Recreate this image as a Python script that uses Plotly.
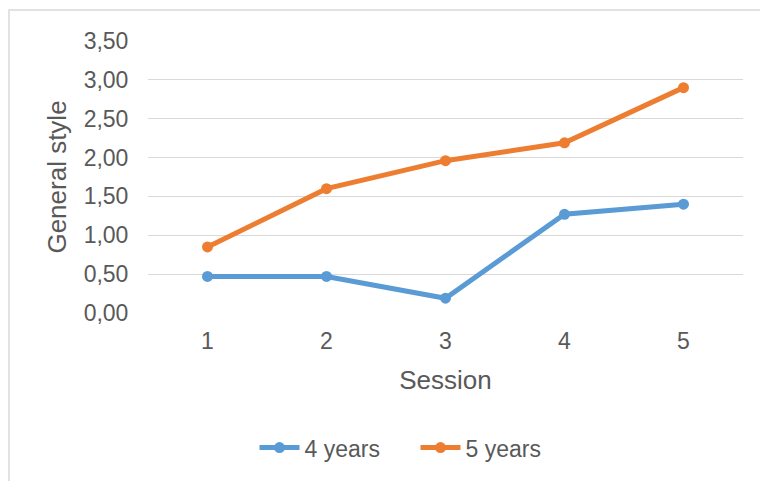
import plotly.graph_objects as go

# Mean "General style" score per session for each age group
sessions = [1, 2, 3, 4, 5]
four_years = [0.47, 0.47, 0.19, 1.27, 1.40]
five_years = [0.85, 1.60, 1.96, 2.19, 2.90]
y_ticks = [0.0, 0.5, 1.0, 1.5, 2.0, 2.5, 3.0, 3.5]
y_tick_text = ["0,00", "0,50", "1,00", "1,50", "2,00", "2,50", "3,00", "3,50"]

BLUE = "#5B9BD5"
ORANGE = "#ED7D31"
TEXT = "#595959"
GRID = "#D9D9D9"
FONT = "Liberation Sans, Arial, sans-serif"

fig = go.Figure()
for name, vals, col in [("4 years", four_years, BLUE), ("5 years", five_years, ORANGE)]:
    fig.add_trace(go.Scatter(
        x=sessions, y=vals, name=name, mode="lines+markers",
        line=dict(color=col, width=5),
        marker=dict(color=col, size=11),
    ))

fig.update_layout(
    width=760, height=481,
    margin=dict(l=148, r=17, t=41, b=167.7),
    paper_bgcolor="white", plot_bgcolor="white",
    font=dict(family=FONT, color=TEXT, size=23),
    showlegend=True,
    legend=dict(orientation="h", x=0.179, xanchor="left", y=-0.495, yanchor="middle",
                font=dict(size=23, color=TEXT), itemwidth=40, tracegroupgap=0,
                entrywidth=106, entrywidthmode="pixels"),
    xaxis=dict(
        range=[0.5, 5.5], tickmode="array", tickvals=sessions,
        ticktext=[str(s) for s in sessions],
        showgrid=False, zeroline=False, showline=False,
        ticks="outside", ticklen=7, tickcolor="rgba(0,0,0,0)",
        title=dict(text="Session", font=dict(size=26, color=TEXT), standoff=18),
        fixedrange=True,
    ),
    yaxis=dict(
        range=[0, 3.5], tickmode="array", tickvals=y_ticks, ticktext=y_tick_text,
        showgrid=True, gridcolor=GRID, gridwidth=1.3, zeroline=False, showline=False,
        ticks="outside", ticklen=14, tickcolor="rgba(0,0,0,0)",
        title=dict(text="General style", font=dict(size=26, color=TEXT), standoff=9),
        fixedrange=True,
    ),
)

# Outer chart frame (left and top edges visible)
fig.add_shape(type="rect", xref="paper", yref="paper",
              x0=-0.2336, x1=1.3, y0=-1.0, y1=1.1138,
              line=dict(color=GRID, width=1.5), fillcolor="rgba(0,0,0,0)", layer="below")

fig.write_html("out.html")
